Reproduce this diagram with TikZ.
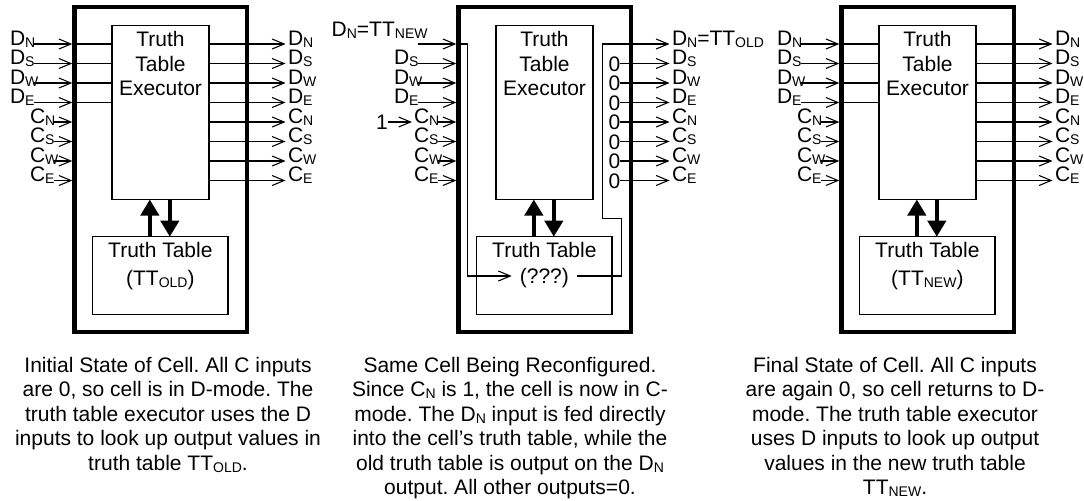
\documentclass[tikz,border=0pt]{standalone}
\usepackage{fontspec}
\setmainfont{Liberation Sans}
\usetikzlibrary{arrows.meta}
\frenchspacing

% small lowered index, as in D_N or TT_OLD
\newcommand\sbs[1]{\raisebox{-1.5pt}{\fontsize{10.5pt}{12pt}\selectfont #1}}

\tikzset{
  cellwall/.style={draw, line width=3.4pt, inner sep=0pt, outer sep=0pt},
  thinbox/.style={draw, line width=0.8pt, inner sep=0pt, outer sep=0pt},
  wire/.style={line width=0.8pt},
  inwire/.style={wire, -{Straight Barb[length=9pt,width=7.5pt]}},
  bigarrow/.style={line width=3.4pt, -{Triangle[length=12pt,width=13.5pt]}},
  lbl/.style={inner sep=0pt, outer sep=0pt, font=\fontsize{15.75pt}{18.4pt}\selectfont},
  exectext/.style={lbl, align=center, font=\fontsize{15.75pt}{18.2pt}\selectfont},
  caption/.style={lbl, align=center, font=\fontsize{15.75pt}{18.4pt}\selectfont},
}

% outer wall, executor, truth table store and the two links between them
% #1 name prefix, #2 tag of the stored table, #3 baseline of that tag
\newcommand\cellframe[3]{%
  \node[cellwall, minimum width=129.4pt, minimum height=243.75pt] (#1cell) at (160.75,169.5) {};
  \node[thinbox, minimum width=72.75pt, minimum height=130.5pt] (#1exec) at (160.5,112.5) {};
  \node[exectext, anchor=north] (#1exectxt) at (160.5,31.7) {Truth\\Table\\Executor};
  \node[thinbox, minimum width=101.5pt, minimum height=58.35pt] (#1tt) at (160.35,275.6) {};
  \node[lbl, anchor=base] (#1ttname) at (160.35,257) {Truth Table};
  \node[lbl, anchor=base] (#1tttag) at (160.35,#3) {#2};
  \draw[bigarrow] ([xshift=-7.9pt]#1tt.north) -- ([xshift=-7.9pt]#1tt.north |- #1exec.south);
  \draw[bigarrow] ([xshift=7.1pt]#1tt.north |- #1exec.south) -- ([xshift=7.1pt]#1tt.north);
}

% C inputs stop at the wall
\newcommand\cinputs[1]{%
  \foreach \nm/\s/\y in {CN/N/122,CS/S/141.5,CW/W/161,CE/E/180.5}{
    \coordinate (#1l\nm) at (54,\y);
    \coordinate (#1t\nm) at (72.3,\y);
    \node[lbl, anchor=base west] (#1L\nm) at (30,\y+1) {C\sbs{\s}};
    \draw[inwire] (#1l\nm) -- (#1t\nm);
  }%
}

% D-mode wiring: D inputs feed the executor, all outputs come from it
\newcommand\dmodewiring[1]{%
  \foreach \nm/\s/\y in {DN/N/44,DS/S/63.5,DW/W/83,DE/E/102.5}{
    \coordinate (#1l\nm) at (34,\y);
    \coordinate (#1t\nm) at (72.3,\y);
    \node[lbl, anchor=base west] (#1L\nm) at (10,\y+1) {D\sbs{\s}};
    \draw[inwire] (#1l\nm) -- (#1t\nm);
    \draw[wire] (#1t\nm) -- (#1t\nm -| #1exec.west);
  }
  \cinputs{#1}
  \foreach \nm/\L/\s/\y in {DN/D/N/44,DS/D/S/63.5,DW/D/W/83,DE/D/E/102.5,CN/C/N/122,CS/C/S/141.5,CW/C/W/161,CE/C/E/180.5}{
    \coordinate (#1o\nm) at (285.5,\y);
    \node[lbl, anchor=base west] (#1R\nm) at (288,\y+1) {\L\sbs{\s}};
    \draw[inwire] (#1o\nm -| #1exec.east) -- (#1o\nm);
  }%
}

\begin{document}
\begin{tikzpicture}[x=0.75pt, y=-0.75pt]
\useasboundingbox (0,0) rectangle (1084,500);

% initial state
\begin{scope}
  \cellframe{p1}{(TT\sbs{OLD})}{285}
  \dmodewiring{p1}
\end{scope}

% reconfiguration
\begin{scope}[xshift=288pt]
  \cellframe{p2}{(???)}{283.5}
  \node[lbl, anchor=base west] (p2LDN) at (-52.3,36) {D\sbs{N}=TT\sbs{NEW}};
  \coordinate (p2lDN) at (34,44);
  \coordinate (p2tDN) at (72.3,44);
  \coordinate (p2ttin) at (127.7,276);
  \draw[inwire] (p2lDN) -- (p2tDN);
  \draw[inwire] (p2tDN) -- ++(11,0) |- (p2ttin);
  \foreach \nm/\s/\y in {DS/S/63.5,DW/W/83,DE/E/102.5}{
    \coordinate (p2l\nm) at (34,\y);
    \coordinate (p2t\nm) at (72.3,\y);
    \node[lbl, anchor=base west] (p2L\nm) at (10,\y+1) {D\sbs{\s}};
    \draw[inwire] (p2l\nm) -- (p2t\nm);
  }
  \cinputs{p2}
  \node[lbl, anchor=base west] (p2one) at (-8,129.5) {1};
  \draw[inwire] (p2one.east |- p2lCN) -- ([xshift=-1.5pt]p2LCN.west |- p2lCN);
  % old table read out on D_N
  \coordinate (p2ttout) at (192.7,276);
  \coordinate (p2oDN) at (285.5,44);
  \draw[inwire] (p2ttout) -| (237.7,218.3) -| (218.5,44) -- (p2oDN);
  \node[lbl, anchor=base west] (p2RDN) at (288,45) {D\sbs{N}=TT\sbs{OLD}};
  \foreach \nm/\L/\s/\y in {DS/D/S/63.5,DW/D/W/83,DE/D/E/102.5,CN/C/N/122,CS/C/S/141.5,CW/C/W/161,CE/C/E/180.5}{
    \coordinate (p2o\nm) at (285.5,\y);
    \node[lbl, anchor=base west] (p2z\nm) at (224.5,\y+7.5) {0};
    \node[lbl, anchor=base west] (p2R\nm) at (288,\y+1) {\L\sbs{\s}};
    \draw[inwire] (p2z\nm.east |- p2o\nm) -- (p2o\nm);
  }
\end{scope}

% final state
\begin{scope}[xshift=575.25pt]
  \cellframe{p3}{(TT\sbs{NEW})}{285}
  \dmodewiring{p3}
\end{scope}

% captions
\node[caption, anchor=north] (cap1) at (168,357) {Initial State of Cell. All C inputs\\are 0, so cell is in D-mode. The\\truth table executor uses the D\\inputs to look up output values in\\truth table TT\sbs{OLD}.};
\node[caption, anchor=north] (cap2) at (510,357) {Same Cell Being Reconfigured.\\Since C\sbs{N} is 1, the cell is now in C-\\mode. The D\sbs{N} input is fed directly\\into the cell’s truth table, while the\\old truth table is output on the D\sbs{N}\\output. All other outputs=0.};
\node[caption, anchor=north] (cap3) at (895,357) {Final State of Cell. All C inputs\\are again 0, so cell returns to D-\\mode. The truth table executor\\uses D inputs to look up output\\values in the new truth table\\TT\sbs{NEW}.};
\end{tikzpicture}
\end{document}
